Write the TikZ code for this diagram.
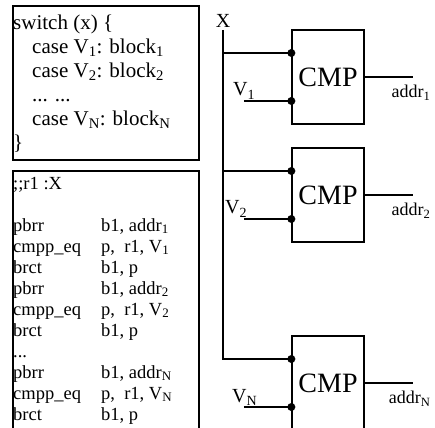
\documentclass[tikz,border=0pt]{standalone}
\usepackage{fontspec}
\setmainfont{Liberation Serif}
\usetikzlibrary{positioning}

\tikzset{
  codebox/.style={draw, line width=1.8pt, anchor=north west, minimum width=186pt, inner sep=0pt},
  cmpbox/.style={draw, line width=1.3pt, minimum width=72pt, minimum height=94pt, font=\fontsize{28}{30}\selectfont},
  wire/.style={line width=1.3pt},
  lab/.style={inner sep=0pt, font=\fontsize{20}{22}\selectfont},
  addr/.style={inner sep=0pt, font=\fontsize{18}{20}\selectfont, anchor=north east},
}

\begin{document}
\begin{tikzpicture}[x=1pt, y=-1pt]
    \useasboundingbox (0,0) rectangle (435,427);
    \clip (0,0) rectangle (435,427);

    % switch statement
    \node[codebox, minimum height=154pt] (src) at (12,5) {};
    \node[anchor=north west, inner sep=0pt, align=left, font=\fontsize{21}{24}\selectfont] (srctxt) at (13,15)
        {switch (x) \{\\
         \hspace*{19pt}case V\textsubscript{1}: block\textsubscript{1}\\
         \hspace*{19pt}case V\textsubscript{2}: block\textsubscript{2}\\
         \hspace*{19pt}... ...\\
         \hspace*{19pt}case V\textsubscript{N}: block\textsubscript{N}\\
         \}};

    % compiled code
    \node[codebox, minimum height=270pt] (asm) at (12,170) {};
    \node[anchor=north west, inner sep=0pt, font=\fontsize{18.5}{21}\selectfont] (asmtxt) at (13,174.3) {%
        \begin{tabular}{@{}p{88pt}@{}l@{}}
        ;;r1 :X & \\
         & \\
        pbrr & b1, addr\textsubscript{1}\\
        cmpp\_eq & p,~~r1, V\textsubscript{1}\\
        brct & b1, p\\
        pbrr & b1, addr\textsubscript{2}\\
        cmpp\_eq & p,~~r1, V\textsubscript{2}\\
        brct & b1, p\\
        ... & \\
        pbrr & b1, addr\textsubscript{N}\\
        cmpp\_eq & p,~~r1, V\textsubscript{N}\\
        brct & b1, p\\
        \end{tabular}};

    % comparators
    \node[lab, anchor=south] (xlab) at (223,27.5) {X};
    \coordinate (xtop) at (223,30);
    \foreach \i/\y/\s/\lx in {1/77/1/233, 2/195/2/225, 3/383/N/232} {
        \node[cmpbox] (cmp\i) at (328,\y) {CMP};
        \coordinate (a\i) at ([yshift=24pt]cmp\i.west);
        \coordinate (b\i) at ([yshift=-24pt]cmp\i.west);
        \coordinate (v\i) at ([xshift=-47.5pt]b\i);
        \coordinate (out\i) at ([xshift=48pt]cmp\i.east);
        \node[lab, anchor=base west] (vlab\i) at (\lx,\y+19) {V\textsubscript{\s}};
        \node[addr] (alab\i) at ([xshift=18pt, yshift=-8pt]out\i) {addr\textsubscript{\s}};
        \draw[wire] (cmp\i.east) -- (out\i);
        \draw[wire] (v\i) -- (b\i);
    }

    \draw[wire] (xtop) |- (a3);
    \draw[wire] (xtop |- a1) -- (a1);
    \draw[wire] (xtop |- a2) -- (a2);
    \foreach \p in {a1,b1,a2,b2,a3,b3}
        \fill (\p) circle (4pt);
\end{tikzpicture}
\end{document}
